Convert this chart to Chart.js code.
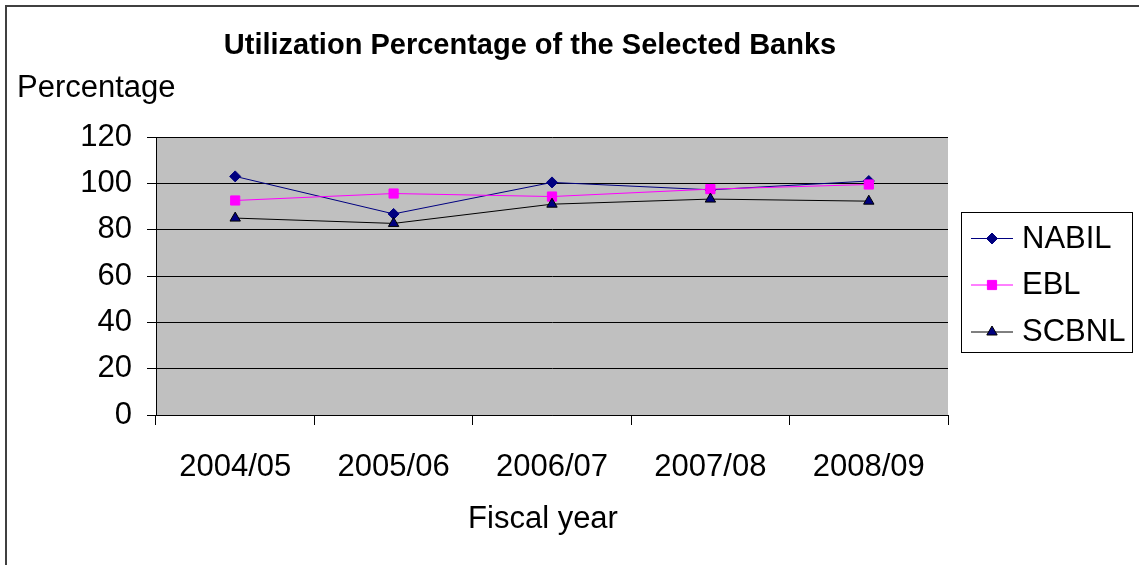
<!DOCTYPE html>
<html>
<head>
<meta charset="utf-8">
<script src="https://cdn.jsdelivr.net/npm/chart.js"></script>
<style>
  html, body { margin: 0; padding: 0; background: #ffffff; }
  #c { display: block; }
</style>
</head>
<body>
<canvas id="c" width="1139" height="565"></canvas>
<script>
const categories = ["2004/05", "2005/06", "2006/07", "2007/08", "2008/09"];
const nabilValues = [103, 86.8, 100.4, 97.2, 101.0];
const eblValues   = [92.6, 95.6, 94.3, 97.5, 99.5];
const scbnlValues = [85.0, 82.7, 91.0, 93.2, 92.3];
const yTicks = [0, 20, 40, 60, 80, 100, 120];

const chartTitle = "Utilization Percentage of the Selected Banks";
const yAxisTitle = "Percentage";
const xAxisTitle = "Fiscal year";

const FONT = "'Liberation Sans', Arial, Helvetica, sans-serif";

const decorPlugin = {
  id: 'decor',
  beforeDraw(chart) {
    const { ctx, chartArea: a } = chart;
    ctx.save();
    ctx.fillStyle = '#ffffff';
    ctx.fillRect(0, 0, chart.width, chart.height);
    ctx.fillStyle = '#c0c0c0';
    ctx.fillRect(a.left, a.top, a.right - a.left, a.bottom - a.top);
    ctx.restore();
  },
  afterDraw(chart) {
    const { ctx } = chart;
    ctx.save();
    // outer border
    ctx.strokeStyle = '#404040';
    ctx.lineWidth = 2;
    ctx.strokeRect(6, 6, chart.width + 20, chart.height + 20);

    // title
    ctx.fillStyle = '#000';
    ctx.textBaseline = 'alphabetic';
    ctx.textAlign = 'center';
    ctx.font = "bold 29px " + FONT;
    ctx.fillText(chartTitle, 530, 54);

    // y axis title
    ctx.textAlign = 'left';
    ctx.font = "31px " + FONT;
    ctx.fillText(yAxisTitle, 17, 97);

    // x axis title
    ctx.textAlign = 'center';
    ctx.fillText(xAxisTitle, 543, 528);

    // legend
    const lx = 961, ly = 212, lw = 171, lh = 140;
    ctx.fillStyle = '#ffffff';
    ctx.fillRect(lx, ly, lw, lh);
    ctx.strokeStyle = '#000';
    ctx.lineWidth = 1;
    ctx.strokeRect(lx + 0.5, ly + 0.5, lw, lh);
    const rows = [238, 284.5, 331.5];
    chart.data.datasets.forEach((ds, i) => {
      const y = rows[i];
      ctx.strokeStyle = ds.borderColor;
      ctx.lineWidth = 1;
      ctx.beginPath();
      ctx.moveTo(971, y + 0.5);
      ctx.lineTo(1013, y + 0.5);
      ctx.stroke();
      const ps = {
        pointStyle: ds.pointStyle,
        radius: ds.pointRadius,
        rotation: 0,
        borderWidth: 1
      };
      ctx.fillStyle = ds.pointBackgroundColor;
      ctx.strokeStyle = ds.pointBorderColor;
      Chart.helpers.drawPoint(ctx, ps, 992, y + 0.5);
      ctx.fillStyle = '#000';
      ctx.textAlign = 'left';
      ctx.textBaseline = 'middle';
      ctx.font = "31px " + FONT;
      ctx.fillText(ds.label, 1022, y + 1);
    });
    ctx.restore();
  }
};

new Chart(document.getElementById('c'), {
  type: 'line',
  data: {
    labels: categories,
    datasets: [
      {
        label: 'NABIL',
        data: nabilValues,
        order: 2,
        borderColor: '#000080',
        borderWidth: 1,
        pointStyle: 'rectRot',
        pointRadius: 5.5,
        pointBackgroundColor: '#000080',
        pointBorderColor: '#000080',
        pointBorderWidth: 1,
        tension: 0,
        fill: false
      },
      {
        label: 'EBL',
        data: eblValues,
        order: 1,
        borderColor: '#ff00ff',
        borderWidth: 1,
        pointStyle: 'rect',
        pointRadius: 6.5,
        pointBackgroundColor: '#ff00ff',
        pointBorderColor: '#ff00ff',
        pointBorderWidth: 1,
        tension: 0,
        fill: false
      },
      {
        label: 'SCBNL',
        data: scbnlValues,
        order: 0,
        borderColor: '#000000',
        borderWidth: 1,
        pointStyle: 'triangle',
        pointRadius: 6,
        pointBackgroundColor: '#000080',
        pointBorderColor: '#000000',
        pointBorderWidth: 1,
        tension: 0,
        fill: false
      }
    ]
  },
  options: {
    responsive: false,
    animation: false,
    events: [],
    layout: { padding: { top: 137, right: 191, left: 0, bottom: 0 } },
    plugins: {
      legend: { display: false },
      title: { display: false },
      tooltip: { enabled: false }
    },
    scales: {
      x: {
        type: 'category',
        offset: true,
        afterFit(s) { s.height = 150; },
        grid: {
          offset: true,
          drawOnChartArea: false,
          drawTicks: true,
          tickLength: 10,
          color: '#000000',
          lineWidth: 1
        },
        border: { display: true, color: '#000000', width: 1 },
        ticks: {
          color: '#000000',
          font: { family: FONT, size: 31 },
          padding: 24,
          maxRotation: 0,
          autoSkip: false
        }
      },
      y: {
        min: 0,
        max: 120,
        afterFit(s) { s.width = 156; },
        afterBuildTicks(s) { s.ticks = yTicks.map(v => ({ value: v })); },
        grid: {
          color: '#000000',
          lineWidth: 1,
          drawTicks: true,
          tickLength: 9
        },
        border: { display: true, color: '#000000', width: 1 },
        ticks: {
          color: '#000000',
          font: { family: FONT, size: 31 },
          padding: 15
        }
      }
    }
  },
  plugins: [decorPlugin]
});
</script>
</body>
</html>
